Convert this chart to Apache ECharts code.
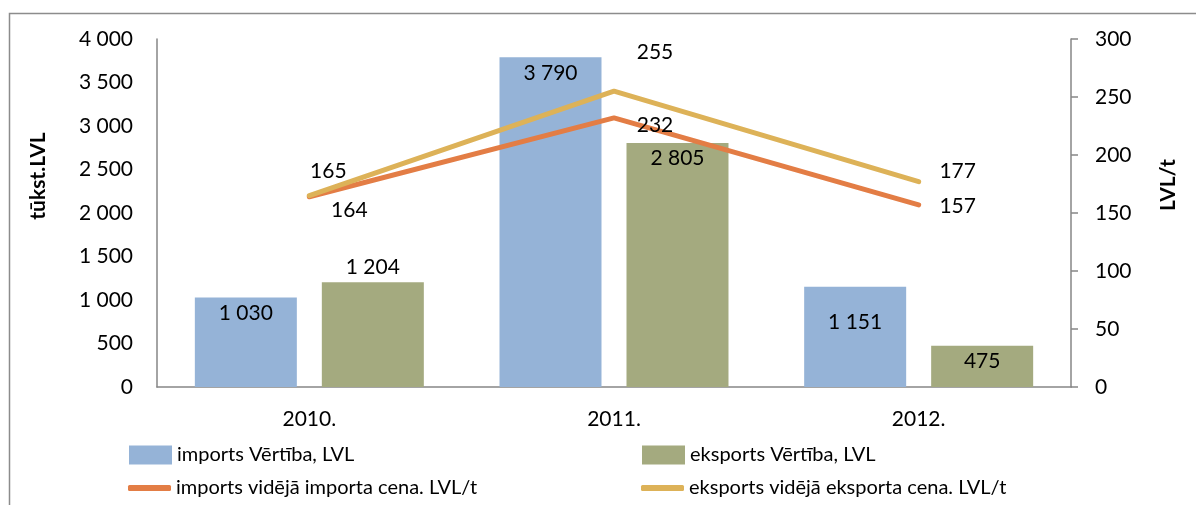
<!DOCTYPE html>
<html><head><meta charset="utf-8">
<script src="https://cdn.jsdelivr.net/npm/echarts@6/dist/echarts.min.js"></script>
<style>html,body{margin:0;padding:0;background:#fff}#c{width:1196px;height:505px}</style>
</head><body><div id="c"></div>
<script>
const categories = ['2010.', '2011.', '2012.'];
const importValue = [1030, 3790, 1151];
const exportValue = [1204, 2805, 475];
const importPrice = [164, 232, 157];
const exportPrice = [165, 255, 177];
const leftTicks = [0, 500, 1000, 1500, 2000, 2500, 3000, 3500, 4000];
const rightTicks = [0, 50, 100, 150, 200, 250, 300];
const names = ['imports Vērtība, LVL', 'eksports Vērtība, LVL', 'imports vidējā importa cena. LVL/t', 'eksports vidējā eksporta cena. LVL/t'];

const FONT = 'Lato';
const FS = 21;
const fmt = v => String(v).replace(/\B(?=(\d{3})+(?!\d))/g, ' ');

const impBarLabels = [{}, {}, {offset: [0, 20]}];
const expBarLabels = [{position: 'top'}, {}, {}];
const impLineOff = [[40, 13], [41, 7], [39, 1]];
const expLineOff = [[19, -24], [41, -39], [39, -10]];

const chart = echarts.init(document.getElementById('c'));
const lbl = {color: '#000', fontFamily: FONT, fontSize: FS};
const legendBase = {orient: 'horizontal', itemWidth: 43, padding: 0, textStyle: {color: '#000', fontFamily: FONT, fontSize: 20}, itemGap: 0, selectedMode: false};
chart.setOption({
  animation: false,
  grid: {left: 157, right: 125, top: 39, bottom: 118},
  graphic: [
    {type: 'rect', left: 7, top: 11, shape: {width: 1300, height: 600}, style: {fill: 'none', stroke: '#8c8c8c', lineWidth: 1.5}},
    {type: 'text', x: 38, y: 176, rotation: Math.PI / 2, style: {text: 'tūkst.LVL', fontFamily: FONT, fontSize: FS, fontWeight: 'bold', fill: '#000', align: 'center', verticalAlign: 'middle'}},
    {type: 'text', x: 1168, y: 185, rotation: Math.PI / 2, style: {text: 'LVL/t', fontFamily: FONT, fontSize: FS, fontWeight: 'bold', fill: '#000', align: 'center', verticalAlign: 'middle'}}
  ],
  legend: [
    Object.assign({}, legendBase, {data: [names[0]], left: 129, top: 445, itemHeight: 19, icon: 'rect'}),
    Object.assign({}, legendBase, {data: [names[1]], left: 642, top: 445, itemHeight: 19, icon: 'rect'}),
    Object.assign({}, legendBase, {data: [names[2]], left: 128, top: 478, itemHeight: 6, icon: 'roundRect'}),
    Object.assign({}, legendBase, {data: [names[3]], left: 641, top: 478, itemHeight: 6, icon: 'roundRect'})
  ],
  xAxis: {
    type: 'category', data: categories,
    axisLine: {lineStyle: {color: '#868686', width: 1.5}},
    axisTick: {show: false},
    axisLabel: {color: '#000', fontFamily: FONT, fontSize: FS, margin: 22}
  },
  yAxis: [
    {type: 'value', min: 0, max: 4000, interval: 500,
     axisLine: {show: true, lineStyle: {color: '#868686', width: 1.5}},
     axisTick: {show: false}, splitLine: {show: false},
     axisLabel: {color: '#000', fontFamily: FONT, fontSize: FS, margin: 24, formatter: v => fmt(v)}},
    {type: 'value', min: 0, max: 300, interval: 50,
     axisLine: {show: true, lineStyle: {color: '#868686', width: 1.5}},
     axisTick: {show: true, inside: false, length: 7, lineStyle: {color: '#868686', width: 1.5}},
     splitLine: {show: false},
     axisLabel: {color: '#000', fontFamily: FONT, fontSize: FS, margin: 24}}
  ],
  series: [
    {name: names[0], type: 'bar', yAxisIndex: 0, barWidth: 102, barGap: '24.5%',
     itemStyle: {color: '#95B3D7'},
     data: importValue.map((v, i) => ({value: v, label: impBarLabels[i]})),
     label: Object.assign({show: true, position: 'insideTop', distance: 5, formatter: p => fmt(p.value)}, lbl)},
    {name: names[1], type: 'bar', yAxisIndex: 0, barWidth: 102,
     itemStyle: {color: '#A4AA7F'},
     data: exportValue.map((v, i) => ({value: v, label: expBarLabels[i]})),
     label: Object.assign({show: true, position: 'insideTop', distance: 5, formatter: p => fmt(p.value)}, lbl)},
    {name: names[2], type: 'line', yAxisIndex: 1, symbol: 'circle', symbolSize: 1,
     itemStyle: {color: '#E37D45'}, lineStyle: {color: '#E37D45', width: 5, cap: 'round', join: 'round'},
     data: importPrice.map((v, i) => ({value: v, label: {offset: impLineOff[i]}})),
     label: Object.assign({show: true, position: 'inside'}, lbl), z: 3},
    {name: names[3], type: 'line', yAxisIndex: 1, symbol: 'circle', symbolSize: 1,
     itemStyle: {color: '#DDB258'}, lineStyle: {color: '#DDB258', width: 5, cap: 'round', join: 'round'},
     data: exportPrice.map((v, i) => ({value: v, label: {offset: expLineOff[i]}})),
     label: Object.assign({show: true, position: 'inside'}, lbl), z: 4}
  ]
});
</script></body></html>
